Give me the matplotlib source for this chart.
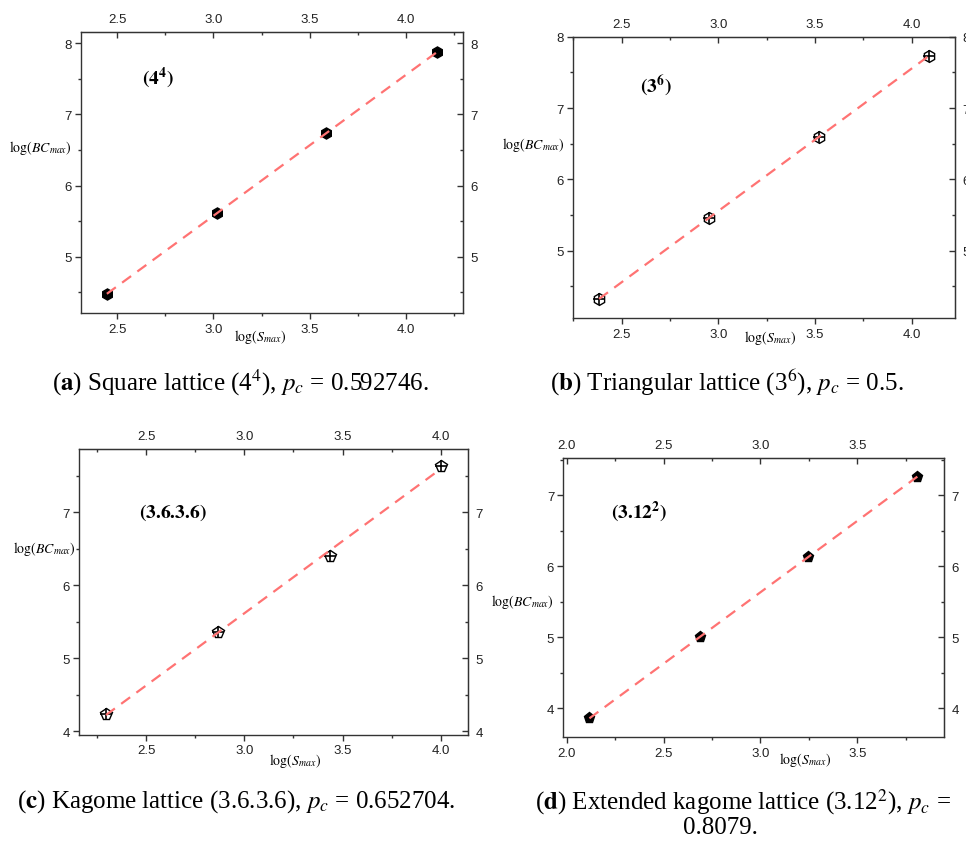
import numpy as np
import matplotlib
matplotlib.use('Agg')
import matplotlib.pyplot as plt
from matplotlib.ticker import MultipleLocator

plt.rcParams['font.family'] = ['Liberation Sans', 'DejaVu Sans']
plt.rcParams['mathtext.fontset'] = 'stix'

#------------------------------------------------------------------------------------------------ data

# log(S_max) and log(BC_max)
x_square = [2.447, 3.019, 3.586, 4.159]
y_square = [4.48, 5.61, 6.74, 7.87]

x_tri = [2.383, 2.950, 3.520, 4.090]
y_tri = [4.32, 5.46, 6.60, 7.73]

x_kag = [2.296, 2.865, 3.434, 4.000]
y_kag = [4.237, 5.366, 6.40, 7.64]

x_ext = [2.117, 2.686, 3.248, 3.810]
y_ext = [3.855, 5.00, 6.127, 7.26]

panel_tags = [r'$\mathbf{(4^4)}$', r'$\mathbf{(3^6)}$', r'$\mathbf{(3.6.3.6)}$', r'$\mathbf{(3.12^2)}$']

#------------------------------------------------------------------------------------------------ helpers

fit_color = '#ff7373'
serif = 'Liberation Serif'

def draw_panel(ax, x, y, marker, filled, xlim, ylim, tag, tag_pos, xlab_pos, ylab_pos):
    x = np.array(x)
    y = np.array(y)
    if filled:
        ax.plot(x, y, linestyle='none', marker=marker, markersize=8, color='k', zorder=3)
    else:
        ax.plot(x, y, linestyle='none', marker=marker, markersize=8.5, markerfacecolor='none',
                markeredgecolor='k', markeredgewidth=1, zorder=3)
        ax.plot(x, y, linestyle='none', marker='+', markersize=8, color='k', markeredgewidth=1.2, zorder=3)

    # linear fit drawn over the points
    k, b = np.polyfit(x, y, 1)
    xf = np.array([x[0], x[-1]])
    ax.plot(xf, k * xf + b, color=fit_color, linestyle=(0, (5, 3.5)), linewidth=1.6, zorder=4)

    ax.set_xlim(xlim)
    ax.set_ylim(ylim)
    for s in ax.spines.values():
        s.set_color('#333333')
        s.set_linewidth(1.0)

    ax.xaxis.set_major_locator(MultipleLocator(0.5))
    ax.xaxis.set_minor_locator(MultipleLocator(0.25))
    ax.yaxis.set_major_locator(MultipleLocator(1))
    ax.yaxis.set_minor_locator(MultipleLocator(0.5))
    ax.tick_params(which='both', direction='out', colors='#333333', labelcolor='#222222', labelsize=9.5)
    ax.tick_params(which='major', length=4, width=1)
    ax.tick_params(which='minor', length=2.5, width=1)
    ax.tick_params(axis='x', pad=3)
    ax.tick_params(axis='y', pad=2.5)

    # top and right axes repeat the scales with inward ticks
    top = ax.secondary_xaxis('top')
    right = ax.secondary_yaxis('right')
    top.xaxis.set_major_locator(MultipleLocator(0.5))
    top.xaxis.set_minor_locator(MultipleLocator(0.25))
    right.yaxis.set_major_locator(MultipleLocator(1))
    right.yaxis.set_minor_locator(MultipleLocator(0.5))
    for sec in (top, right):
        sec.tick_params(which='both', direction='in', colors='#333333', labelcolor='#222222', labelsize=9.5, pad=5)
        sec.tick_params(which='major', length=4, width=1)
        sec.tick_params(which='minor', length=2.5, width=1)
        for s in sec.spines.values():
            s.set_color('#333333')

    ax.text(tag_pos[0], tag_pos[1], tag, transform=ax.transAxes, fontsize=14, ha='center', va='center')
    ax.text(xlab_pos[0], xlab_pos[1], r'$\log(S_{max})$', transform=ax.transAxes, fontsize=10,
            ha='center', va='center')
    ax.text(ylab_pos[0], ylab_pos[1], r'$\log(BC_{max})$', transform=ax.transAxes, fontsize=10,
            ha='center', va='center')

#------------------------------------------------------------------------------------------------ figure

fig = plt.figure(figsize=(9.66, 8.45), dpi=100)

ax_a = fig.add_axes([0.0839, 0.6284, 0.3954, 0.3325])
draw_panel(ax_a, x_square, y_square, 'h', True, (2.313, 4.295), (4.21, 8.155),
           panel_tags[0], (0.202, 0.84), (0.469, -0.082), (-0.107, 0.591))

ax_b = fig.add_axes([0.5929, 0.6225, 0.3958, 0.3329])
draw_panel(ax_b, x_tri, y_tri, 'h', False, (2.247, 4.224), (4.056, 8.0),
           panel_tags[1], (0.217, 0.825), (0.516, -0.068), (-0.104, 0.619))

ax_c = fig.add_axes([0.0818, 0.1293, 0.4030, 0.3381])
draw_panel(ax_c, x_kag, y_kag, 'p', False, (2.159, 4.14), (3.953, 7.867),
           panel_tags[2], (0.241, 0.78), (0.555, -0.089), (-0.09, 0.653))

ax_d = fig.add_axes([0.5831, 0.1262, 0.3944, 0.3305])
draw_panel(ax_d, x_ext, y_ext, 'p', True, (1.982, 3.949), (3.587, 7.52),
           panel_tags[3], (0.199, 0.811), (0.634, -0.078), (-0.108, 0.488))

#------------------------------------------------------------------------------------------------ captions

cap = dict(fontsize=18, family=serif, ha='center', va='center')
fig.text(240 / 966, 1 - 383 / 845, r'($\mathbf{a}$) Square lattice (4$^4$), $p_c$ = 0.592746.', **cap)
fig.text(727 / 966, 1 - 383 / 845, r'($\mathbf{b}$) Triangular lattice (3$^6$), $p_c$ = 0.5.', **cap)
fig.text(236 / 966, 1 - 802 / 845, r'($\mathbf{c}$) Kagome lattice (3.6.3.6), $p_c$ = 0.652704.', **cap)
fig.text(743 / 966, 1 - 802 / 845, r'($\mathbf{d}$) Extended kagome lattice (3.12$^2$), $p_c$ =', **cap)
fig.text(720 / 966, 1 - 828 / 845, '0.8079.', **cap)

plt.savefig('out.png', dpi=100)
